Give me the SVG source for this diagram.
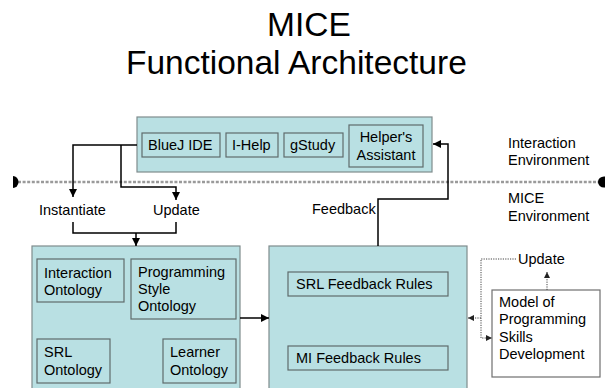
<svg xmlns="http://www.w3.org/2000/svg" width="605" height="388" viewBox="0 0 605 388">
<style>
text{font-family:"Liberation Sans",Arial,sans-serif;font-size:14.5px;fill:#000}
.title{font-size:33.5px}
.outer{fill:#B9E0E3;stroke:#7f8c8d;stroke-width:1.2}
.inner{fill:#B9E0E3;stroke:#5f6b6c;stroke-width:1.2}
.white{fill:#fff;stroke:#6f6f6f;stroke-width:1.2}
.conn{fill:none;stroke:#000;stroke-width:1.5}
.dot{fill:none;stroke:#444;stroke-width:1;stroke-dasharray:1.2 1.2}
.env{fill:none;stroke:#9a9a9a;stroke-width:2.4;stroke-dasharray:3 1.6}
</style>
<defs>
<marker id="ah" viewBox="0 0 10 10" refX="10" refY="5" markerWidth="8" markerHeight="8" markerUnits="userSpaceOnUse" orient="auto">
<path d="M0,0 L10,5 L0,10 Z" fill="#000"/>
</marker>
<marker id="sah" viewBox="0 0 10 10" refX="10" refY="5" markerWidth="6" markerHeight="6" markerUnits="userSpaceOnUse" orient="auto">
<path d="M0,0 L10,5 L0,10 Z" fill="#222"/>
</marker>
</defs>
<rect width="605" height="388" fill="#fff"/>
<g id="title">
<text class="title" x="267" y="36">MICE</text>
<text class="title" x="126" y="73.5">Functional Architecture</text>
</g>
<g id="environment">
<path class="env" d="M18,182 H599"/>
<path d="M13,176 A5.5,6 0 0 1 13,188 Z" fill="#000"/>
<ellipse cx="604" cy="182" rx="6" ry="5.5" fill="#000"/>
<text x="508" y="148">Interaction</text>
<text x="508" y="165">Environment</text>
<text x="508" y="203">MICE</text>
<text x="508" y="221">Environment</text>
</g>
<g id="interaction-tools">
<rect class="outer" x="137" y="117" width="295" height="55"/>
<g id="bluej"><rect class="inner" x="142" y="133" width="78" height="24"/><text x="148" y="150">BlueJ IDE</text></g>
<g id="ihelp"><rect class="inner" x="226" y="133" width="52" height="24"/><text x="232" y="150">I-Help</text></g>
<g id="gstudy"><rect class="inner" x="284" y="133" width="59" height="24"/><text x="290" y="150">gStudy</text></g>
<g id="helper"><rect class="inner" x="349" y="125" width="74" height="42"/><text x="386" y="142" text-anchor="middle">Helper's</text><text x="386" y="160" text-anchor="middle">Assistant</text></g>
</g>
<g id="labels">
<text x="39" y="215">Instantiate</text>
<text x="153" y="215">Update</text>
<text x="312" y="214">Feedback</text>
</g>
<g id="ontologies">
<rect class="outer" x="32" y="246" width="208" height="150"/>
<g id="interaction-ontology"><rect class="inner" x="37" y="259" width="87" height="43"/><text x="44" y="278">Interaction</text><text x="44" y="295">Ontology</text></g>
<g id="style-ontology"><rect class="inner" x="131" y="259" width="105" height="60"/><text x="138" y="277">Programming</text><text x="138" y="294">Style</text><text x="138" y="311">Ontology</text></g>
<g id="srl-ontology"><rect class="inner" x="37" y="339" width="73" height="44"/><text x="44" y="357">SRL</text><text x="44" y="375">Ontology</text></g>
<g id="learner-ontology"><rect class="inner" x="163" y="339" width="73" height="44"/><text x="170" y="357">Learner</text><text x="170" y="375">Ontology</text></g>
</g>
<g id="feedback-rules">
<rect class="outer" x="269" y="246" width="198" height="150"/>
<g id="srl-rules"><rect class="inner" x="288" y="272" width="160" height="24"/><text x="296" y="289">SRL Feedback Rules</text></g>
<g id="mi-rules"><rect class="inner" x="288" y="346" width="160" height="24"/><text x="296" y="363">MI Feedback Rules</text></g>
</g>
<g id="model">
<rect class="white" x="492" y="290" width="108" height="87"/>
<text x="499" y="307">Model of</text>
<text x="499" y="324">Programming</text>
<text x="499" y="342">Skills</text>
<text x="499" y="359">Development</text>
<text x="518" y="264">Update</text>
</g>
<g id="connectors">
<path class="conn" d="M137,145 H73 V197" marker-end="url(#ah)"/>
<path class="conn" d="M121,145 V187 H176 V200" marker-end="url(#ah)"/>
<path class="conn" d="M73,222 V233 H176 V222"/>
<path class="conn" d="M136,233 V246" marker-end="url(#ah)"/>
<path class="conn" d="M240,318 H269" marker-end="url(#ah)"/>
<path class="conn" d="M378,246 V199 H448 V144 H433" marker-end="url(#ah)"/>
<path class="dot" d="M547,290 V272" marker-end="url(#sah)"/>
<path class="dot" d="M516,259 H481 V338 H492" marker-end="url(#sah)"/>
<path class="dot" d="M481,318 H468" marker-end="url(#sah)"/>
</g>
</svg>
